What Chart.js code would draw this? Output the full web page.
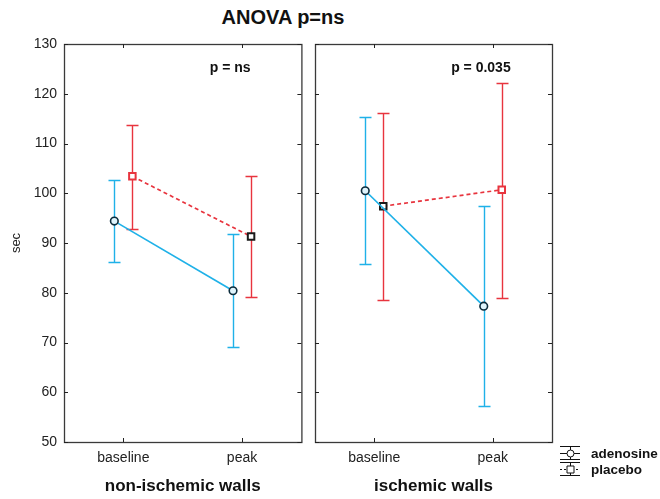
<!DOCTYPE html>
<html>
<head>
<meta charset="utf-8">
<script src="https://cdn.jsdelivr.net/npm/chart.js@4.4.1/dist/chart.umd.min.js"></script>
<style>
  html, body { margin: 0; padding: 0; background: #fff; width: 660px; height: 499px; overflow: hidden; }
  #wrap { position: relative; width: 660px; height: 499px; font-family: "Liberation Sans", Arial, sans-serif; }
  #title { position: absolute; left: 0; width: 566px; top: 6px; text-align: center; font-weight: bold; font-size: 20px; color: #111; }
  .panel { position: absolute; top: 0; height: 499px; }
  #p1 { left: 0; width: 308px; }
  #p2 { left: 305px; width: 355px; }
</style>
</head>
<body>
<div id="wrap">
  <div id="title">ANOVA p=ns</div>
  <div class="panel" id="p1"><canvas id="c1" width="308" height="499"></canvas></div>
  <div class="panel" id="p2"><canvas id="c2" width="355" height="499"></canvas></div>
</div>
<script>
// Time points on the x axis
const categories = ['baseline', 'peak'];
const yTickValues = [50, 60, 70, 80, 90, 100, 110, 120, 130];

// Non-ischemic walls: means and error bar limits
const adenosineNonIsch = [94.4, 80.4];
const adenosineNonIschLow = [86.1, 69.0];
const adenosineNonIschHigh = [102.6, 91.8];
const placeboNonIsch = [103.4, 91.3];
const placeboNonIschLow = [92.8, 79.1];
const placeboNonIschHigh = [113.8, 103.4];

// Ischemic walls: means and error bar limits
const adenosineIsch = [100.5, 77.3];
const adenosineIschLow = [85.7, 57.2];
const adenosineIschHigh = [115.3, 97.4];
const placeboIsch = [97.4, 100.7];
const placeboIschLow = [78.6, 78.9];
const placeboIschHigh = [116.2, 122.2];

const BLUE = '#1fb1e8';
const RED = '#e8343e';
const FONT = '"Liberation Sans", Arial, sans-serif';
const SHIFT = 0.076; // horizontal dodge of the two groups

// Vertical error bars with caps, drawn beneath the lines and markers
const errorBars = {
  id: 'errorBars',
  beforeDatasetsDraw(chart) {
    const { ctx, scales: { x, y } } = chart;
    chart.data.datasets.forEach(ds => {
      ctx.save();
      ctx.strokeStyle = ds.barColor;
      ctx.lineWidth = 1.4;
      ds.data.forEach((p, i) => {
        const px = Math.round(x.getPixelForValue(p.x)) + 0.5;
        const top = Math.round(y.getPixelForValue(ds.high[i])) + 0.5;
        const bot = Math.round(y.getPixelForValue(ds.low[i])) + 0.5;
        ctx.beginPath();
        ctx.moveTo(px, top); ctx.lineTo(px, bot);
        ctx.moveTo(px - 6, top); ctx.lineTo(px + 6, top);
        ctx.moveTo(px - 6, bot); ctx.lineTo(px + 6, bot);
        ctx.stroke();
      });
      ctx.restore();
    });
  }
};

// Box around the plot area with inward tick marks on all four sides
const frame = {
  id: 'frame',
  afterDraw(chart) {
    const { ctx, chartArea: a, scales: { x, y } } = chart;
    ctx.save();
    ctx.strokeStyle = '#3a3a3a';
    ctx.lineWidth = 1.3;
    ctx.strokeRect(a.left + 0.5, a.top + 0.5, a.right - a.left, a.bottom - a.top);
    ctx.lineWidth = 1;
    ctx.strokeStyle = '#222';
    ctx.beginPath();
    yTickValues.forEach(v => {
      const py = Math.round(y.getPixelForValue(v)) + 0.5;
      ctx.moveTo(a.left, py); ctx.lineTo(a.left + 4, py);
      ctx.moveTo(a.right, py); ctx.lineTo(a.right - 4, py);
    });
    categories.forEach((c, i) => {
      const px = Math.round(x.getPixelForValue(i)) + 0.5;
      ctx.moveTo(px, a.top); ctx.lineTo(px, a.top + 4);
      ctx.moveTo(px, a.bottom); ctx.lineTo(px, a.bottom - 4);
    });
    ctx.stroke();

    // significance note in the upper right of the panel
    const note = chart.options.plugins.frame.note;
    ctx.fillStyle = '#111';
    ctx.font = 'bold 14px ' + FONT;
    ctx.textAlign = 'center';
    ctx.textBaseline = 'middle';
    ctx.fillText(note, a.left + (a.right - a.left) * 0.7, a.top + 24);

    if (chart.options.plugins.frame.legend) drawLegend(ctx, a.right + 8);
    ctx.restore();
  }
};

function drawLegend(ctx, lx) {
  const rows = [
    { label: 'adenosine', y: 453, dash: [], marker: 'circle' },
    { label: 'placebo', y: 469, dash: [2, 2], marker: 'square' }
  ];
  rows.forEach(r => {
    ctx.save();
    ctx.strokeStyle = '#111';
    ctx.lineWidth = 1;
    ctx.beginPath();
    ctx.moveTo(lx, r.y - 6.5); ctx.lineTo(lx + 20, r.y - 6.5);
    ctx.moveTo(lx, r.y + 6.5); ctx.lineTo(lx + 20, r.y + 6.5);
    ctx.stroke();
    ctx.setLineDash(r.dash);
    ctx.beginPath();
    ctx.moveTo(lx, r.y + 0.5); ctx.lineTo(lx + 20, r.y + 0.5);
    ctx.stroke();
    ctx.setLineDash([]);
    ctx.beginPath();
    ctx.moveTo(lx + 10.5, r.y - 6.5); ctx.lineTo(lx + 10.5, r.y + 6.5);
    ctx.stroke();
    ctx.fillStyle = '#fff';
    ctx.beginPath();
    if (r.marker === 'circle') ctx.arc(lx + 10.5, r.y + 0.5, 3.5, 0, Math.PI * 2);
    else ctx.rect(lx + 7, r.y - 3, 7, 7);
    ctx.fill(); ctx.stroke();
    ctx.fillStyle = '#111';
    ctx.font = 'bold 13.5px ' + FONT;
    ctx.textAlign = 'left';
    ctx.textBaseline = 'middle';
    ctx.fillText(r.label, lx + 31, r.y + 1);
    ctx.restore();
  });
}

function makePanel(id, p) {
  const adenosine = {
    label: 'adenosine',
    data: p.adenosine.map((m, i) => ({ x: i - SHIFT, y: m })),
    low: p.adenosineLow, high: p.adenosineHigh, barColor: BLUE,
    borderColor: BLUE, borderWidth: 1.7,
    pointStyle: 'circle', pointRadius: 3.8, pointBorderWidth: 1.6,
    pointBorderColor: '#0c2c3c', pointBackgroundColor: '#dff4fc'
  };
  const placebo = {
    label: 'placebo',
    data: p.placebo.map((m, i) => ({ x: i + SHIFT, y: m })),
    low: p.placeboLow, high: p.placeboHigh, barColor: RED,
    borderColor: RED, borderWidth: 1.7, borderDash: [4, 3],
    pointStyle: 'rect', pointRadius: 4.6, pointBorderWidth: 2,
    pointBorderColor: p.placeboEdges, pointBackgroundColor: '#ffffff'
  };
  return new Chart(document.getElementById(id), {
    type: 'line',
    data: { datasets: [adenosine, placebo] },
    options: {
      responsive: false,
      animation: false,
      events: [],
      layout: { padding: { top: 44, right: p.padRight, left: 0, bottom: 0 } },
      plugins: {
        legend: { display: false },
        tooltip: { enabled: false },
        frame: { note: p.note, legend: p.legend }
      },
      scales: {
        x: {
          type: 'linear', min: -0.5, max: 1.5,
          afterBuildTicks: s => { s.ticks = categories.map((c, i) => ({ value: i })); },
          afterFit: s => { s.height = 57; },
          grid: { display: false, drawTicks: false },
          border: { display: false },
          ticks: {
            padding: 8, color: '#222', font: { family: FONT, size: 14 },
            callback: v => categories[v]
          },
          title: {
            display: true, text: p.title, color: '#111',
            font: { family: FONT, size: 17, weight: 'bold' },
            padding: { top: 0, bottom: 2 }
          }
        },
        y: {
          min: 50, max: 130,
          afterBuildTicks: s => { s.ticks = yTickValues.map(v => ({ value: v })); },
          afterFit: s => { s.width = p.yWidth; },
          grid: { display: false, drawTicks: false },
          border: { display: false },
          ticks: {
            display: p.yLabels, padding: 7, color: '#222',
            font: { family: FONT, size: 14 }
          },
          title: {
            display: p.yLabels, text: 'sec', color: '#222',
            font: { family: FONT, size: 13 },
            padding: { top: 9, bottom: 0 }
          }
        }
      }
    },
    plugins: [errorBars, frame]
  });
}

makePanel('c1', {
  title: 'non-ischemic walls', note: 'p = ns', legend: false,
  yLabels: true, yWidth: 64, padRight: 1,
  adenosine: adenosineNonIsch, adenosineLow: adenosineNonIschLow, adenosineHigh: adenosineNonIschHigh,
  placebo: placeboNonIsch, placeboLow: placeboNonIschLow, placeboHigh: placeboNonIschHigh,
  placeboEdges: [RED, '#1a1a1a']
});

makePanel('c2', {
  title: 'ischemic walls', note: 'p = 0.035', legend: true,
  yLabels: false, yWidth: 10, padRight: 108,
  adenosine: adenosineIsch, adenosineLow: adenosineIschLow, adenosineHigh: adenosineIschHigh,
  placebo: placeboIsch, placeboLow: placeboIschLow, placeboHigh: placeboIschHigh,
  placeboEdges: ['#1a1a1a', RED]
});
</script>
</body>
</html>
